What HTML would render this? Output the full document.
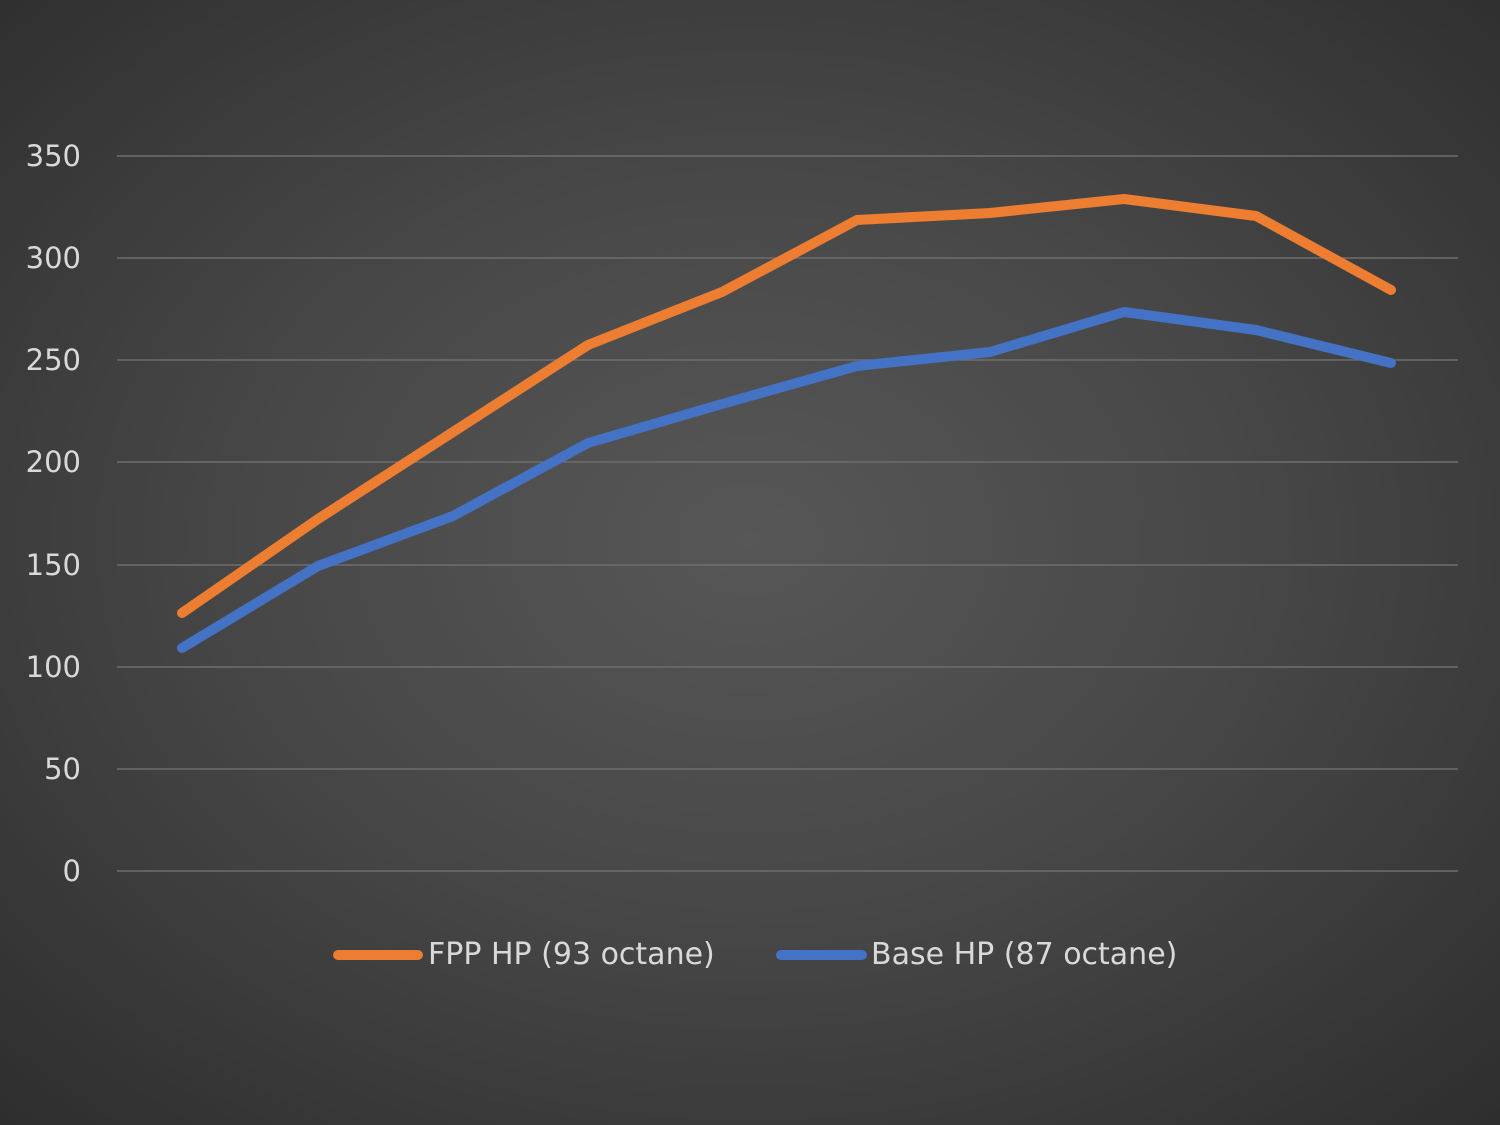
<!DOCTYPE html>
<html><head><meta charset="utf-8"><style>
html,body{margin:0;padding:0;}
body{width:1500px;height:1125px;overflow:hidden;background:radial-gradient(ellipse 75% 75% at 50% 48%,#575757 0%,#474747 45%,#2c2c2c 100%);font-family:"DejaVu Sans","Liberation Sans",sans-serif;}
</style></head><body>
<svg width="1500" height="1125" style="position:absolute;left:0;top:0">
<g stroke="#6e6e6e" stroke-width="1.5">
<line x1="117" x2="1458" y1="156" y2="156"/><line x1="117" x2="1458" y1="258" y2="258"/>
<line x1="117" x2="1458" y1="360" y2="360"/><line x1="117" x2="1458" y1="462" y2="462"/>
<line x1="117" x2="1458" y1="565" y2="565"/><line x1="117" x2="1458" y1="667" y2="667"/>
<line x1="117" x2="1458" y1="769" y2="769"/><line x1="117" x2="1458" y1="871" y2="871"/>
</g>
<g fill="#d9d9d9" font-size="29" text-anchor="end" font-family="DejaVu Sans, Liberation Sans, sans-serif">
<text x="81" y="166">350</text><text x="81" y="268">300</text><text x="81" y="370">250</text>
<text x="81" y="472">200</text><text x="81" y="575">150</text><text x="81" y="677">100</text>
<text x="81" y="779">50</text><text x="81" y="881">0</text>
</g>
<polyline fill="none" stroke="#ed7d31" stroke-width="10" stroke-linecap="round" stroke-linejoin="round" points="182,613 318,519 453,432 588,345 722,292 857,220 990,213 1124,199 1256,216 1391,290"/>
<polyline fill="none" stroke="#4472c4" stroke-width="10" stroke-linecap="round" stroke-linejoin="round" points="182,648 318,566 453,516 588,443 722,404 857,366 990,352 1124,312 1256,330 1391,363"/>
<line x1="338" x2="418" y1="955" y2="955" stroke="#ed7d31" stroke-width="10" stroke-linecap="round"/>
<line x1="781" x2="862" y1="955" y2="955" stroke="#4472c4" stroke-width="10" stroke-linecap="round"/>
<g fill="#d9d9d9" font-size="30" font-family="DejaVu Sans, Liberation Sans, sans-serif">
<text x="428" y="964">FPP HP (93 octane)</text>
<text x="871" y="964">Base HP (87 octane)</text>
</g>
</svg>
</body></html>
